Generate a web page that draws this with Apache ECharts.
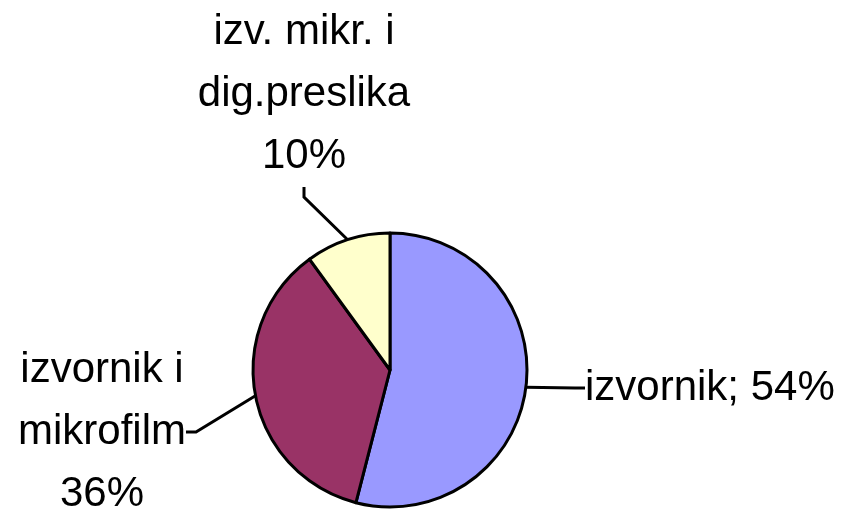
<!DOCTYPE html>
<html>
<head>
<meta charset="utf-8">
<script src="https://cdn.jsdelivr.net/npm/echarts@6/dist/echarts.min.js"></script>
<style>html,body{margin:0;padding:0;background:#fff;}#c{width:856px;height:511px;}</style>
</head>
<body>
<div id="c"></div>
<script>
const categories = ['izvornik', 'izvornik i mikrofilm', 'izv. mikr. i dig.preslika'];
const values = [54, 36, 10];
const labelTexts = ['izvornik; 54%', 'izvornik i\nmikrofilm\n36%', 'izv. mikr. i\ndig.preslika\n10%'];
const colors = ['#9999FF', '#993366', '#FFFFCC'];

const labelPos = [
  { x: 585, y: 388, align: 'left' },
  { x: 102, y: 432, align: 'center' },
  { x: 304, y: 94, align: 'center' }
];

const chart = echarts.init(document.getElementById('c'), null, { renderer: 'canvas' });
chart.setOption({
  animation: false,
  series: [{
    type: 'pie',
    center: [390, 370],
    radius: 137,
    startAngle: 90,
    clockwise: true,
    data: categories.map((n, i) => ({ name: n, value: values[i], itemStyle: { color: colors[i] } })),
    itemStyle: { borderColor: '#000', borderWidth: 3 },
    label: {
      show: true,
      formatter: p => labelTexts[p.dataIndex],
      fontFamily: 'Liberation Sans, Arial, sans-serif',
      fontSize: 42,
      lineHeight: 62,
      color: '#000'
    },
    labelLine: { show: true, length: 10, length2: 10, lineStyle: { color: '#000', width: 3 } },
    labelLayout: function (p) {
      const lp = labelPos[p.dataIndex];
      return { x: lp.x, y: lp.y, align: lp.align, verticalAlign: 'middle' };
    },
    emphasis: { disabled: true }
  }]
});
</script>
</body>
</html>
